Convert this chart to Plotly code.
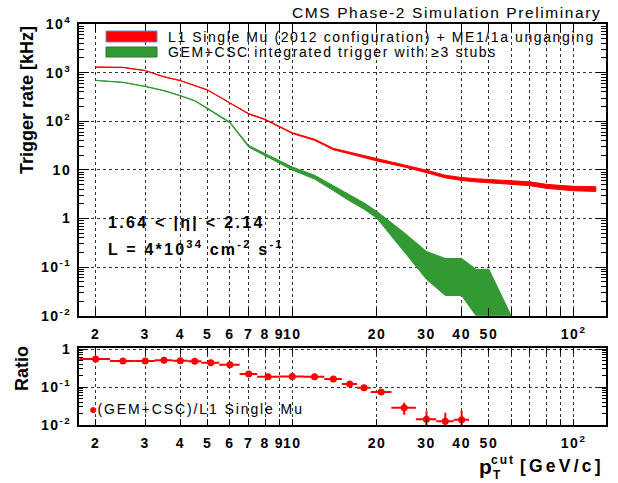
import plotly.graph_objects as go

# ---------------- data ----------------
pt_red = [2, 2.5, 3, 3.5, 4, 4.5, 5, 6, 7, 8, 10, 12, 14, 16, 18, 20, 25, 30, 35, 40,
          45, 50, 60, 70, 80, 90, 100, 120]
rate_red = [1300, 1280, 1100, 820, 685, 540, 440, 237, 142, 109, 57, 41.6, 26.8, 22.2,
            18.9, 16.0, 12.1, 9.3, 7.3, 6.5, 6.1, 5.8, 5.5, 5.2, 4.6, 4.35, 4.15, 4.05]
err_red = [8, 8, 7, 6, 5, 4, 4, 2.5, 2, 1.6, 1.1, 1.2, 0.9, 0.9, 0.85, 0.8, 0.65, 0.55,
           0.47, 0.45, 0.45, 0.46, 0.47, 0.47, 0.44, 0.43, 0.44, 0.45]

pt_green = [2, 2.5, 3, 3.5, 4, 4.5, 5, 6, 7, 8, 10, 12, 14, 16, 18, 20, 25, 30, 35, 40,
            45, 50, 60]
rate_green = [692, 630, 520, 425, 335, 264, 184, 94, 30.5, 20.5, 10.7, 7.1, 4.2, 2.63,
              1.82, 1.2, 0.36, 0.133, 0.088, 0.088, 0.045, 0.045, 0.0]
err_green = [5, 5, 4, 4, 3, 3, 2, 2, 1.2, 1.0, 0.75, 0.65, 0.46, 0.34, 0.27, 0.19, 0.15,
             0.077, 0.062, 0.062, 0.045, 0.045, 0.0]

pt_ratio = [2, 2.5, 3, 3.5, 4, 4.5, 5.13, 6, 7, 8.2, 10, 12, 14, 16, 18, 20.7, 25, 30, 35, 40]
ratio = [0.546, 0.483, 0.483, 0.505, 0.49, 0.474, 0.436, 0.386, 0.22, 0.187, 0.19, 0.187,
         0.163, 0.12, 0.096, 0.074, 0.0285, 0.0141, 0.0125, 0.0138]
pt_lo = [1.75, 2.25, 2.75, 3.25, 3.75, 4.25, 4.75, 5.5, 6.5, 7.5, 9, 11, 13, 15, 17, 19,
         22.5, 27.5, 32.5, 37.5]
pt_hi = [2.25, 2.75, 3.25, 3.75, 4.25, 4.75, 5.5, 6.5, 7.5, 9, 11, 13, 15, 17, 19, 22.5,
         27.5, 32.5, 37.5, 42.5]
ratio_err = [0.01, 0.01, 0.01, 0.01, 0.01, 0.01, 0.01, 0.01, 0.01, 0.008, 0.008, 0.008,
             0.008, 0.008, 0.009, 0.012, 0.010, 0.009, 0.0085, 0.0095]

x_label_vals = [2, 3, 4, 5, 6, 7, 8, 9, 10, 20, 30, 40, 50, 100]
x_label_text = ['2', '3', '4', '5', '6', '7', '8', '9', '10', '20', '30', '40', '50',
                '10<sup>2</sup>']
x_grid_only = [60, 70, 80, 90]
y_main_vals = [1e-2, 1e-1, 1, 10, 100, 1e3, 1e4]
y_main_text = ['10<sup>-2</sup>', '10<sup>-1</sup>', '1', '10', '10<sup>2</sup>',
               '10<sup>3</sup>', '10<sup>4</sup>']
y_ratio_vals = [1e-2, 1e-1, 1]
y_ratio_text = ['10<sup>-2</sup>', '10<sup>-1</sup>', '1']

# ---------------- geometry ----------------
W_FIG, H_FIG = 618, 483
L, R, T, B = 79, 606, 24, 425
PW, PH = R - L, B - T
YMIN = 0.01


def pxx(x):
    return (x - L) / PW


def pxy(y):
    return (B - y) / PH


def sp(s, ls):
    return '<span style="letter-spacing:%spx">%s</span>' % (ls, s)


RED = '#ff0000'
GREEN = '#339933'
FONT = 'Liberation Sans'


def band(xs, vals, errs):
    up = [max(v + e, YMIN) for v, e in zip(vals, errs)]
    lo = [max(v - e, YMIN) for v, e in zip(vals, errs)]
    return list(xs) + list(xs)[::-1], up + lo[::-1]


fig = go.Figure()
bx, by = band(pt_red, rate_red, err_red)
fig.add_trace(go.Scatter(x=bx, y=by, fill='toself', fillcolor=RED, mode='lines',
                         line=dict(color=RED, width=1), xaxis='x', yaxis='y',
                         showlegend=False, hoverinfo='skip'))
gx, gy = band(pt_green, rate_green, err_green)
fig.add_trace(go.Scatter(x=gx, y=gy, fill='toself', fillcolor=GREEN, mode='lines',
                         line=dict(color=GREEN, width=1), xaxis='x', yaxis='y',
                         showlegend=False, hoverinfo='skip'))

fig.add_trace(go.Scatter(
    x=pt_ratio, y=ratio, mode='markers', xaxis='x2', yaxis='y2', showlegend=False,
    marker=dict(color=RED, size=7),
    error_x=dict(type='data', symmetric=False,
                 array=[h - x for h, x in zip(pt_hi, pt_ratio)],
                 arrayminus=[x - l for l, x in zip(pt_lo, pt_ratio)],
                 color=RED, thickness=2, width=0),
    error_y=dict(type='data', array=ratio_err, color=RED, thickness=2, width=0),
))

tickfont = dict(family=FONT, size=14, color='black', weight='bold')
xrange_log = [0.2418, 2.1153]
GRIDC = '#333333'

axis_common = dict(type='log', showline=True, linewidth=2, linecolor='black',
                   mirror='allticks', ticks='inside', tickcolor='black',
                   showgrid=True, gridcolor=GRIDC, griddash='dot', gridwidth=1,
                   zeroline=False, tickfont=tickfont, automargin=False, tickangle=0)

x_minor = dict(tickmode='array', tickvals=x_grid_only, ticks='inside', ticklen=8,
               tickcolor='black', showgrid=True, gridcolor=GRIDC, griddash='dot',
               gridwidth=1)
x_ticktext = [sp(t, 1.5) for t in x_label_text]

fig.update_layout(
    width=W_FIG, height=H_FIG,
    margin=dict(l=L, r=W_FIG - R, t=T, b=H_FIG - B, pad=0, autoexpand=False),
    paper_bgcolor='white', plot_bgcolor='white',
    font=dict(family=FONT, color='black'),
    xaxis=dict(axis_common, domain=[0, 1], range=xrange_log, anchor='y',
               tickmode='array', tickvals=x_label_vals, ticktext=x_ticktext,
               ticklen=8, ticklabelstandoff=4, minor=x_minor),
    yaxis=dict(axis_common, domain=[pxy(315.7), 1], range=[-2, 4], anchor='x',
               tickmode='array', tickvals=y_main_vals,
               ticktext=[sp(t, 1.5) for t in y_main_text],
               ticklen=10, ticklabelstandoff=3,
               minor=dict(tickmode='array',
                          tickvals=[k * 10 ** n for n in range(-2, 4) for k in range(2, 10)],
                          ticks='inside', ticklen=5, tickcolor='black', showgrid=False)),
    xaxis2=dict(axis_common, domain=[0, 1], range=xrange_log, anchor='y2', matches='x',
                tickmode='array', tickvals=x_label_vals, ticktext=x_ticktext,
                ticklen=6, ticklabelstandoff=4, minor=dict(x_minor, ticklen=6)),
    yaxis2=dict(axis_common, domain=[0, pxy(347.7)], range=[-2, 0.035], anchor='x2',
                tickmode='array', tickvals=y_ratio_vals,
                ticktext=[sp(t, 1.5) for t in y_ratio_text],
                ticklen=8, ticklabelstandoff=3,
                minor=dict(tickmode='array',
                           tickvals=[k * 10 ** n for n in range(-2, 0) for k in range(2, 10)],
                           ticks='inside', ticklen=4, tickcolor='black', showgrid=False)),
)

# legend swatches (decoration)
fig.add_shape(type='rect', xref='paper', yref='paper', x0=pxx(106), x1=pxx(157),
              y0=pxy(42), y1=pxy(31), fillcolor=RED, line=dict(color='#5b8fd6', width=1))
fig.add_shape(type='rect', xref='paper', yref='paper', x0=pxx(106), x1=pxx(157),
              y0=pxy(57), y1=pxy(47), fillcolor=GREEN, line=dict(color='#2a7a2a', width=1))

ann = []


def text(x, y, s, size, bold=False, xanchor='left', yanchor='middle', angle=0, color='black'):
    ann.append(dict(x=pxx(x), y=pxy(y), xref='paper', yref='paper', text=s, showarrow=False,
                    xanchor=xanchor, yanchor=yanchor, textangle=angle,
                    font=dict(family=FONT, size=size, color=color,
                              weight='bold' if bold else 'normal')))


text(603, 12, sp('CMS Phase-2 Simulation Preliminary', 1.6), 15.5, xanchor='right')
text(166, 36.5, sp('L1 Single Mu (2012 configuration) + ME1/1a unganging', 1.6), 14)
text(166, 52.5, sp('GEM+CSC integrated trigger with \u22653 stubs', 1.6), 14)
text(106, 223, sp('1.64 &lt; |\u03b7| &lt; 2.14', 2.3), 16, bold=True)
text(106, 248, sp('L = 4*10<sup>34</sup> cm<sup>-2</sup> s<sup>-1</sup>', 2.2), 16, bold=True)
text(27, 100, 'Trigger rate [kHz]', 18, bold=True, xanchor='center', angle=-90)
text(22, 369, 'Ratio', 18, bold=True, xanchor='center', angle=-90)
text(87, 409, '<span style="color:#ff0000">\u25cf</span>' + sp('(GEM+CSC)/L1 Single Mu', 1.9), 14)
# x-axis title p_T^cut [GeV/c]
text(477, 466, 'p', 21, bold=True)
text(489, 460, sp('cut', 2), 12, bold=True)
text(491, 475, 'T', 12, bold=True)
text(606, 466, sp('[GeV/c]', 3.2), 17.5, bold=True, xanchor='right')

fig.update_layout(annotations=ann)
fig.write_html('out.html',
               config={'displayModeBar': False},
               post_script="document.body.style.margin='0px';"
                           "document.body.style.overflow='hidden';")
